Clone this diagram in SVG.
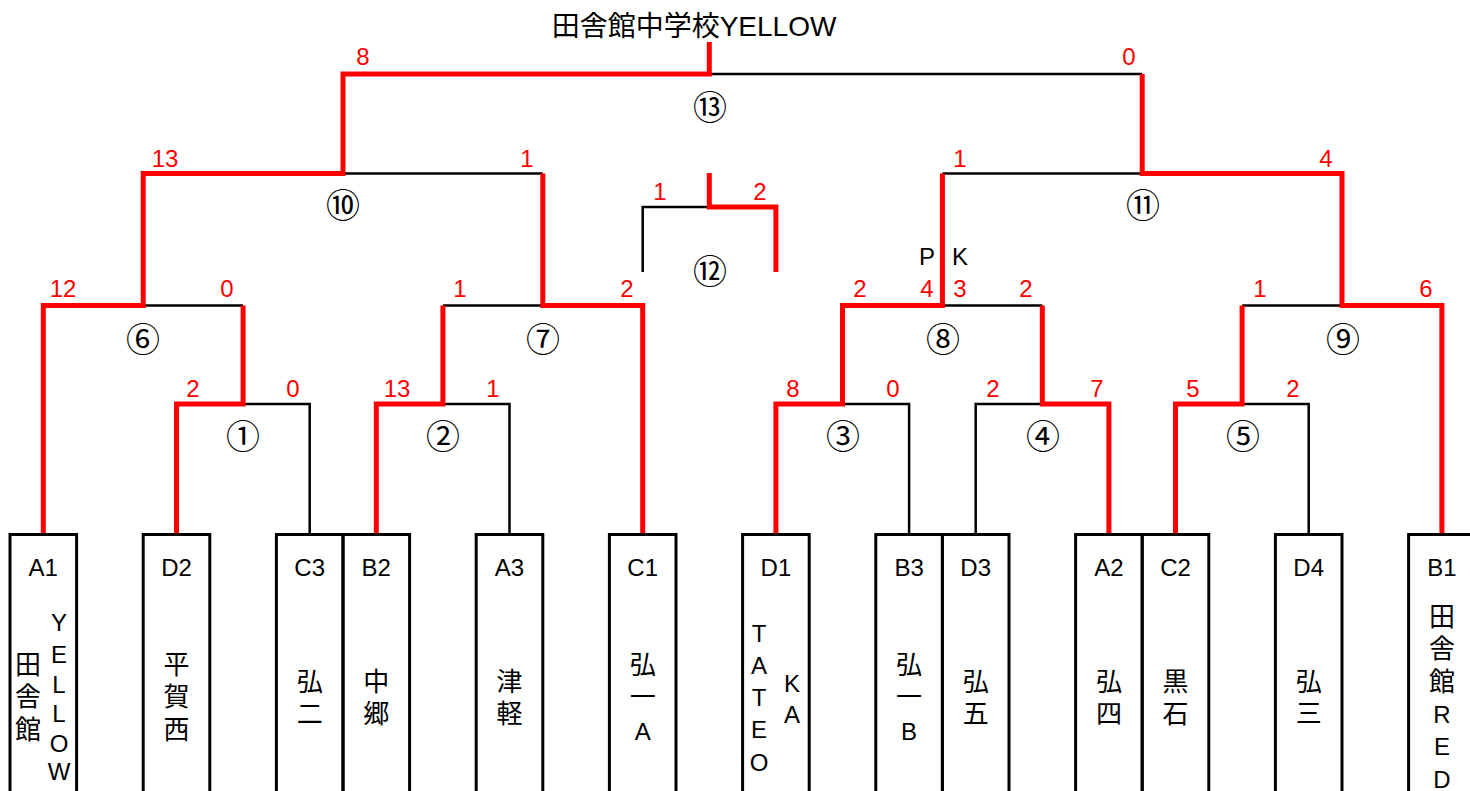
<svg xmlns="http://www.w3.org/2000/svg" width="1470" height="791" viewBox="0 0 1470 791">
<style>
text{font-family:"Liberation Sans","Noto Sans CJK JP",sans-serif;fill:#000}
.title{font-size:28px;text-anchor:middle}
.code{font-size:24px;text-anchor:middle}
.cjk{font-size:26px;text-anchor:middle;font-family:"Noto Sans CJK JP",sans-serif}
.lat{font-size:24px;text-anchor:middle}
.sc{font-size:24px;text-anchor:middle;fill:#ff0000}
.pk{font-size:24px;text-anchor:middle}
.no{font-size:34px;text-anchor:middle;font-family:"Noto Sans CJK JP",sans-serif}
.box{fill:none;stroke:#000;stroke-width:3}
.lose{fill:none;stroke:#000;stroke-width:2.5;stroke-linejoin:miter}
.win{fill:none;stroke:#ff0000;stroke-width:5;stroke-linejoin:miter}
</style>
<rect width="1470" height="791" fill="#fff"/>
<text class="title" x="694" y="36">田舎館中学校YELLOW</text>

<g id="connectors">
  <path class="lose" d="M309.7,534 V404 H176.5"/>
  <path class="lose" d="M509.5,534 V404 H376.3"/>
  <path class="lose" d="M909.1,534 V404 H775.9"/>
  <path class="lose" d="M975.7,534 V404 H1108.9"/>
  <path class="lose" d="M1308.7,534 V404 H1175.5"/>
  <path class="lose" d="M43.3,305.5 H243.1"/>
  <path class="lose" d="M442.9,305.5 H642.7"/>
  <path class="lose" d="M842.5,305.5 H1042.3"/>
  <path class="lose" d="M1242.1,305.5 H1441.9"/>
  <path class="lose" d="M143.2,173.5 H542.8"/>
  <path class="lose" d="M942.4,173.5 H1342"/>
  <path class="lose" d="M343,74 H1142.2"/>
  <path class="lose" d="M642.7,272 V207 H709.3"/>

  <path class="win" d="M43.3,534 V305.5 H143.2 V173.5 H343 V74 H709.3 V42"/>
  <path class="win" d="M176.5,534 V404 H243.1 V305.5"/>
  <path class="win" d="M376.3,534 V404 H442.9 V305.5"/>
  <path class="win" d="M642.7,534 V305.5 H542.8 V173.5"/>
  <path class="win" d="M709.3,173 V207 H775.9 V272"/>
  <path class="win" d="M775.9,534 V404 H842.5 V305.5 H942.4 V173.5"/>
  <path class="win" d="M1108.9,534 V404 H1042.3 V305.5"/>
  <path class="win" d="M1175.5,534 V404 H1242.1 V305.5"/>
  <path class="win" d="M1441.9,534 V305.5 H1342 V173.5 H1142.2 V74"/>
</g>

<g id="match-1"><text class="no" x="243" y="449">①</text><text class="sc" x="193" y="397">2</text><text class="sc" x="293" y="397">0</text></g>
<g id="match-2"><text class="no" x="443" y="449">②</text><text class="sc" x="397" y="397">13</text><text class="sc" x="493" y="397">1</text></g>
<g id="match-3"><text class="no" x="843" y="449">③</text><text class="sc" x="793" y="397">8</text><text class="sc" x="893" y="397">0</text></g>
<g id="match-4"><text class="no" x="1043" y="449">④</text><text class="sc" x="993" y="397">2</text><text class="sc" x="1097" y="397">7</text></g>
<g id="match-5"><text class="no" x="1243" y="449">⑤</text><text class="sc" x="1193" y="397">5</text><text class="sc" x="1293" y="397">2</text></g>
<g id="match-6"><text class="no" x="143" y="352">⑥</text><text class="sc" x="63" y="297">12</text><text class="sc" x="227" y="297">0</text></g>
<g id="match-7"><text class="no" x="543" y="352">⑦</text><text class="sc" x="460" y="297">1</text><text class="sc" x="627" y="297">2</text></g>
<g id="match-8"><text class="no" x="943" y="352">⑧</text><text class="sc" x="860" y="297">2</text><text class="sc" x="927" y="297">4</text><text class="sc" x="960" y="297">3</text><text class="sc" x="1026" y="297">2</text><text class="pk" x="927" y="265">P</text><text class="pk" x="960" y="265">K</text></g>
<g id="match-9"><text class="no" x="1343" y="352">⑨</text><text class="sc" x="1260" y="297">1</text><text class="sc" x="1426" y="297">6</text></g>
<g id="match-10"><text class="no" x="343" y="218">⑩</text><text class="sc" x="165" y="167">13</text><text class="sc" x="527" y="167">1</text></g>
<g id="match-11"><text class="no" x="1143" y="218">⑪</text><text class="sc" x="960" y="167">1</text><text class="sc" x="1326" y="167">4</text></g>
<g id="match-12"><text class="no" x="710" y="284">⑫</text><text class="sc" x="660" y="200">1</text><text class="sc" x="760" y="200">2</text></g>
<g id="match-13"><text class="no" x="710" y="120">⑬</text><text class="sc" x="363" y="65">8</text><text class="sc" x="1129" y="65">0</text></g>

<g id="team-A1"><rect class="box" x="10" y="534.5" width="66.6" height="300"/><text class="code" x="43.3" y="576">A1</text>
<text class="cjk"><tspan x="28" y="674">田</tspan><tspan x="28" y="706">舎</tspan><tspan x="28" y="739">館</tspan></text>
<text class="lat"><tspan x="59" y="631">Y</tspan><tspan x="59" y="663">E</tspan><tspan x="59" y="693">L</tspan><tspan x="59" y="722">L</tspan><tspan x="59" y="752">O</tspan><tspan x="59" y="780">W</tspan></text></g>
<g id="team-D2"><rect class="box" x="143.2" y="534.5" width="66.6" height="300"/><text class="code" x="176.5" y="576">D2</text>
<text class="cjk"><tspan x="176.5" y="674">平</tspan><tspan x="176.5" y="706">賀</tspan><tspan x="176.5" y="739">西</tspan></text></g>
<g id="team-C3"><rect class="box" x="276.4" y="534.5" width="66.6" height="300"/><text class="code" x="309.7" y="576">C3</text>
<text class="cjk"><tspan x="309.7" y="691">弘</tspan><tspan x="309.7" y="723">二</tspan></text></g>
<g id="team-B2"><rect class="box" x="343" y="534.5" width="66.6" height="300"/><text class="code" x="376.3" y="576">B2</text>
<text class="cjk"><tspan x="376.3" y="691">中</tspan><tspan x="376.3" y="723">郷</tspan></text></g>
<g id="team-A3"><rect class="box" x="476.2" y="534.5" width="66.6" height="300"/><text class="code" x="509.5" y="576">A3</text>
<text class="cjk"><tspan x="509.5" y="691">津</tspan><tspan x="509.5" y="723">軽</tspan></text></g>
<g id="team-C1"><rect class="box" x="609.4" y="534.5" width="66.6" height="300"/><text class="code" x="642.7" y="576">C1</text>
<text class="cjk"><tspan x="642.7" y="674">弘</tspan><tspan x="642.7" y="706">一</tspan></text><text class="lat" x="642.7" y="740">A</text></g>
<g id="team-D1"><rect class="box" x="742.6" y="534.5" width="66.6" height="300"/><text class="code" x="775.9" y="576">D1</text>
<text class="lat"><tspan x="759" y="642">T</tspan><tspan x="759" y="674">A</tspan><tspan x="759" y="706">T</tspan><tspan x="759" y="738">E</tspan><tspan x="759" y="771">O</tspan></text>
<text class="lat"><tspan x="792" y="692">K</tspan><tspan x="792" y="723">A</tspan></text></g>
<g id="team-B3"><rect class="box" x="875.8" y="534.5" width="66.6" height="300"/><text class="code" x="909.1" y="576">B3</text>
<text class="cjk"><tspan x="909.1" y="674">弘</tspan><tspan x="909.1" y="706">一</tspan></text><text class="lat" x="909.1" y="740">B</text></g>
<g id="team-D3"><rect class="box" x="942.4" y="534.5" width="66.6" height="300"/><text class="code" x="975.7" y="576">D3</text>
<text class="cjk"><tspan x="975.7" y="691">弘</tspan><tspan x="975.7" y="723">五</tspan></text></g>
<g id="team-A2"><rect class="box" x="1075.6" y="534.5" width="66.6" height="300"/><text class="code" x="1108.9" y="576">A2</text>
<text class="cjk"><tspan x="1108.9" y="691">弘</tspan><tspan x="1108.9" y="723">四</tspan></text></g>
<g id="team-C2"><rect class="box" x="1142.2" y="534.5" width="66.6" height="300"/><text class="code" x="1175.5" y="576">C2</text>
<text class="cjk"><tspan x="1175.5" y="691">黒</tspan><tspan x="1175.5" y="723">石</tspan></text></g>
<g id="team-D4"><rect class="box" x="1275.4" y="534.5" width="66.6" height="300"/><text class="code" x="1308.7" y="576">D4</text>
<text class="cjk"><tspan x="1308.7" y="691">弘</tspan><tspan x="1308.7" y="723">三</tspan></text></g>
<g id="team-B1"><rect class="box" x="1408.6" y="534.5" width="66.6" height="300"/><text class="code" x="1441.9" y="576">B1</text>
<text class="cjk"><tspan x="1441.9" y="626">田</tspan><tspan x="1441.9" y="658">舎</tspan><tspan x="1441.9" y="691">館</tspan></text>
<text class="lat"><tspan x="1441.9" y="723">R</tspan><tspan x="1441.9" y="755">E</tspan><tspan x="1441.9" y="788">D</tspan></text></g>
</svg>
